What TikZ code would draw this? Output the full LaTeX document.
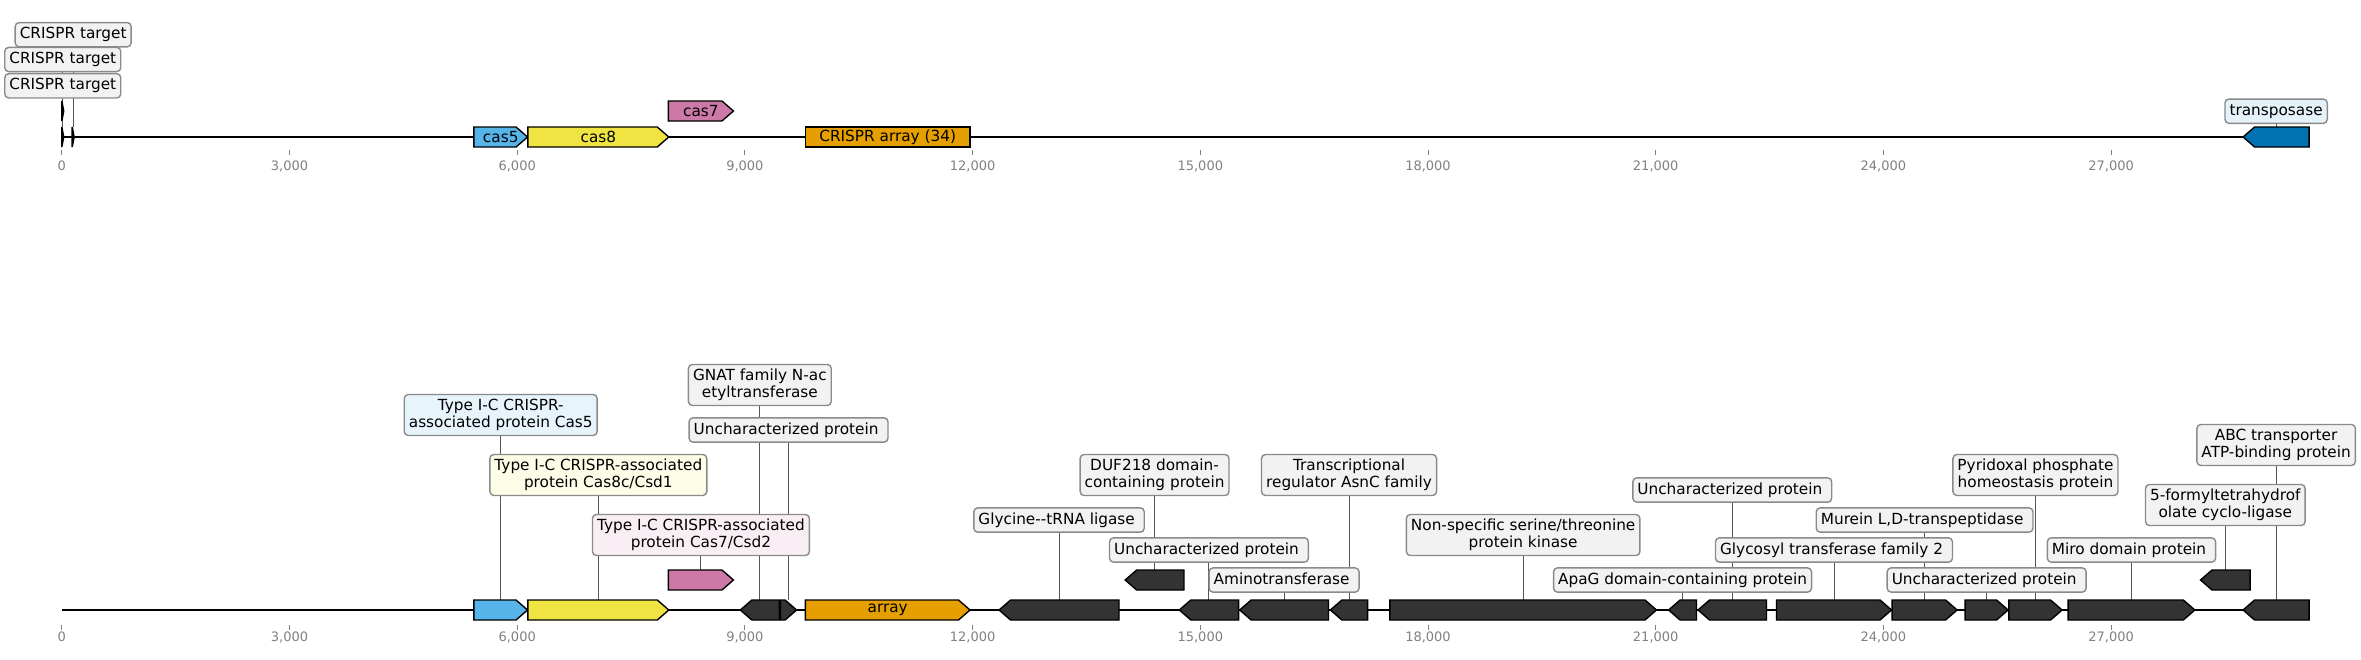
\documentclass[tikz,border=0pt]{standalone}
\usepackage{fontspec}
\setmainfont{DejaVu Sans}
\pgfdeclarelayer{bg}
\pgfsetlayers{bg,main}
\definecolor{cblue}{HTML}{56B4E9}
\definecolor{cyel}{HTML}{F0E442}
\definecolor{cpink}{HTML}{CC79A7}
\definecolor{corange}{HTML}{E69F00}
\definecolor{ctrans}{HTML}{0072B2}
\definecolor{cdark}{HTML}{333333}
\definecolor{lgray}{HTML}{F2F2F2}
\definecolor{lblue}{HTML}{E7F4FC}
\definecolor{lyel}{HTML}{FDFCE7}
\definecolor{lpink}{HTML}{F9EEF4}
\definecolor{ltrans}{HTML}{E6F2FA}
\definecolor{bordergray}{HTML}{8A8A8A}
\definecolor{leadgray}{HTML}{555555}
\definecolor{tickgray}{HTML}{808080}
\newcommand\lf{\fontsize{15.3}{16.7}\selectfont}
\newcommand\ls{\rule[-3.5pt]{0pt}{15.1pt}}
\newcommand\tsp{\kern4.9pt}
\tikzset{
  genebox/.style={draw=black, line width=1.4pt, line join=miter},
  genetext/.style={inner sep=0pt, font=\lf, text=black},
  lab/.style={draw=bordergray, line width=1.4pt, rounded corners=4pt, fill=lgray,
    inner xsep=4.6pt, inner ysep=4.6pt, align=center, font=\lf, text=black},
  leader/.style={draw=leadgray, line width=1pt},
  axisline/.style={line width=2pt, draw=black},
  tickmark/.style={draw=tickgray, line width=0.9pt},
  ticklab/.style={text=tickgray, font=\fontsize{13}{15}\selectfont, inner sep=0pt},
}
% forward gene: name, start kb, end kb, y centre, fill, text
\newcommand\gfwd[6]{%
  \pgfmathsetmacro\gxa{61.8+75.9*#2}%
  \pgfmathsetmacro\gxb{61.8+75.9*#3}%
  \pgfmathsetmacro\ghl{min(11.5,\gxb-\gxa)}%
  \pgfmathsetmacro\gxm{(\gxa+\gxb)/2}%
  \pgfmathsetmacro\gwd{\gxb-\gxa}%
  \draw[genebox,fill=#5] (\gxa,#4-10) -- (\gxb-\ghl,#4-10) -- (\gxb,#4) -- (\gxb-\ghl,#4+10) -- (\gxa,#4+10) -- cycle;
  \node[genetext, minimum width=\gwd pt, minimum height=20pt] (#1) at (\gxm,#4) {#6};
}
\newcommand\grev[6]{%
  \pgfmathsetmacro\gxa{61.8+75.9*#2}%
  \pgfmathsetmacro\gxb{61.8+75.9*#3}%
  \pgfmathsetmacro\ghl{min(11.5,\gxb-\gxa)}%
  \pgfmathsetmacro\gxm{(\gxa+\gxb)/2}%
  \pgfmathsetmacro\gwd{\gxb-\gxa}%
  \draw[genebox,fill=#5] (\gxb,#4-10) -- (\gxa+\ghl,#4-10) -- (\gxa,#4) -- (\gxa+\ghl,#4+10) -- (\gxb,#4+10) -- cycle;
  \node[genetext, minimum width=\gwd pt, minimum height=20pt] (#1) at (\gxm,#4) {#6};
}
\newcommand\grect[6]{%
  \pgfmathsetmacro\gxa{61.8+75.9*#2}%
  \pgfmathsetmacro\gxb{61.8+75.9*#3}%
  \pgfmathsetmacro\gxm{(\gxa+\gxb)/2}%
  \pgfmathsetmacro\gwd{\gxb-\gxa}%
  \draw[genebox,fill=#5] (\gxa,#4-10) rectangle (\gxb,#4+10);
  \node[genetext, minimum width=\gwd pt, minimum height=20pt] (#1) at (\gxm,#4) {#6};
}
% label: name, gene, y centre, fill, text
\newcommand\lbl[5]{%
  \node[lab, fill=#4] (#1) at (#2.center |- 0,#3) {#5};
  \begin{pgfonlayer}{bg}\draw[leader] (#2.north) -- (#1.south);\end{pgfonlayer}
}
\begin{document}
\begin{tikzpicture}[x=1pt,y=-1pt]
\useasboundingbox (0,0) rectangle (2361,659);
% ---------- axes ----------
\draw[axisline] (61.8,137) -- (2309.1,137);
\draw[axisline] (61.8,610) -- (2309.1,610);
\foreach \k/\t in {0/0,3/{3,000},6/{6,000},9/{9,000},12/{12,000},15/{15,000},18/{18,000},21/{21,000},24/{24,000},27/{27,000}}{
  \pgfmathsetmacro\xt{61.8+75.9*\k}
  \draw[tickmark] (\xt,150) -- (\xt,155);
  \node[ticklab] (tt\k) at (\xt,166) {\t};
  \draw[tickmark] (\xt,625) -- (\xt,630);
  \node[ticklab] (bt\k) at (\xt,637) {\t};
}
% ---------- top track ----------
\gfwd{ta}{0}{0.026}{137}{black}{}
\gfwd{tb}{0}{0.026}{111}{black}{}
\gfwd{tc}{0.137}{0.163}{137}{black}{}
\gfwd{t1}{5.430}{6.136}{137}{cblue}{cas5}
\gfwd{t2}{6.141}{7.997}{137}{cyel}{cas8}
\gfwd{t3}{7.992}{8.849}{111}{cpink}{cas7}
\grect{t4}{9.797}{11.966}{137}{corange}{CRISPR array (34)}
\grev{t5}{28.739}{29.609}{137}{ctrans}{}
\lbl{lc}{tc}{34.7}{lgray}{\ls CRISPR target}
\lbl{la}{ta}{59.5}{lgray}{\ls CRISPR target}
\lbl{lb}{tb}{85.8}{lgray}{\ls CRISPR target}
\lbl{l5}{t5}{111.2}{ltrans}{\ls transposase}
% ---------- bottom track ----------
\gfwd{g1}{5.430}{6.136}{610}{cblue}{}
\gfwd{g2}{6.141}{7.997}{610}{cyel}{}
\gfwd{g3}{7.992}{8.849}{580}{cpink}{}
\grev{g4}{8.940}{9.454}{610}{cdark}{}
\gfwd{g5}{9.469}{9.681}{610}{cdark}{}
\gfwd{g6}{9.797}{11.966}{610}{corange}{array}
\grev{g7}{12.349}{13.929}{610}{cdark}{}
\grev{g8}{14.010}{14.785}{580}{cdark}{}
\grev{g9}{14.724}{15.504}{610}{cdark}{}
\grev{g10}{15.519}{16.689}{610}{cdark}{}
\grev{g11}{16.714}{17.205}{610}{cdark}{}
\gfwd{g12}{17.497}{21.010}{610}{cdark}{}
\grev{g13}{21.170}{21.537}{610}{cdark}{}
\grev{g14}{21.558}{22.459}{610}{cdark}{}
\gfwd{g15}{22.591}{24.107}{610}{cdark}{}
\gfwd{g16}{24.115}{24.971}{610}{cdark}{}
\gfwd{g17}{25.077}{25.643}{610}{cdark}{}
\gfwd{g18}{25.652}{26.354}{610}{cdark}{}
\gfwd{g19}{26.433}{28.103}{610}{cdark}{}
\grev{g20}{28.178}{28.831}{580}{cdark}{}
\grev{g21}{28.739}{29.609}{610}{cdark}{}
\lbl{b1}{g1}{415}{lblue}{\ls Type I-C CRISPR-\\\ls associated protein Cas5}
\lbl{b2}{g2}{475}{lyel}{\ls Type I-C CRISPR-associated\\\ls protein Cas8c/Csd1}
\lbl{b3}{g3}{535}{lpink}{\ls Type I-C CRISPR-associated\\\ls protein Cas7/Csd2}
\lbl{b4}{g4}{385}{lgray}{\ls GNAT family N-ac\\\ls etyltransferase}
\lbl{b5}{g5}{430}{lgray}{\ls Uncharacterized protein\tsp}
\lbl{b7}{g7}{520}{lgray}{\ls Glycine-{}-tRNA ligase\tsp}
\lbl{b8}{g8}{475}{lgray}{\ls DUF218 domain-\\\ls containing protein}
\lbl{b9}{g9}{550}{lgray}{\ls Uncharacterized protein\tsp}
\lbl{b10}{g10}{580}{lgray}{\ls Aminotransferase\tsp}
\lbl{b11}{g11}{475}{lgray}{\ls Transcriptional\\\ls regulator AsnC family}
\lbl{b12}{g12}{535}{lgray}{\ls Non-specific serine/threonine\\\ls protein kinase}
\lbl{b13}{g13}{580}{lgray}{\ls ApaG domain-containing protein}
\lbl{b14}{g14}{490}{lgray}{\ls Uncharacterized protein\tsp}
\lbl{b15}{g15}{550}{lgray}{\ls Glycosyl transferase family 2\tsp}
\lbl{b16}{g16}{520}{lgray}{\ls Murein L,D-transpeptidase\tsp}
\lbl{b17}{g17}{580}{lgray}{\ls Uncharacterized protein\tsp}
\lbl{b18}{g18}{475}{lgray}{\ls Pyridoxal phosphate\\\ls homeostasis protein}
\lbl{b19}{g19}{550}{lgray}{\ls Miro domain protein\tsp}
\lbl{b20}{g20}{505}{lgray}{\ls 5-formyltetrahydrof\\\ls olate cyclo-ligase}
\lbl{b21}{g21}{445}{lgray}{\ls ABC transporter\\\ls ATP-binding protein}
\end{tikzpicture}
\end{document}
